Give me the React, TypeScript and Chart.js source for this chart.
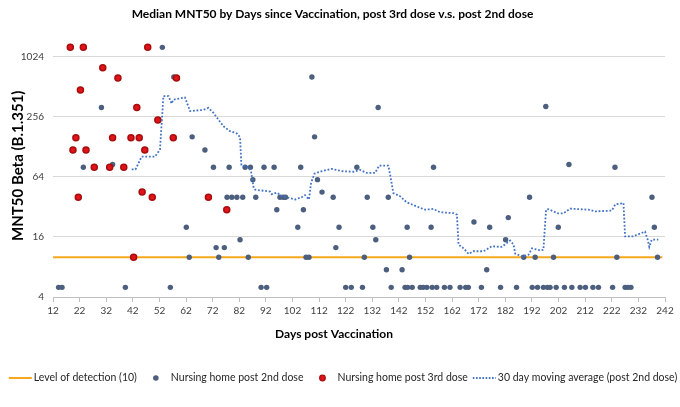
import { useEffect, useRef } from "react"
import { Chart, registerables } from "chart.js"

Chart.register(...registerables)

const FONT = "Lato, 'Open Sans', sans-serif"

const xTicks = [12, 22, 32, 42, 52, 62, 72, 82, 92, 102, 112, 122, 132, 142, 152, 162, 172, 182, 192, 202, 212, 222, 232, 242]
const yTicks = [4, 16, 64, 256, 1024]

const detectionLevel = 10
const detectionDays = [12, 241]

// post 2nd dose
const secondDays = [
  14.1, 15.4, 23.4, 30.2, 34.4, 39.2, 53.1, 56.1, 57.4, 62.1, 63.2, 64.3, 69.1, 72.3, 73.3, 74.3, 76.4, 77.4, 78.2, 79.2,
  81.1, 82.3, 83.3, 84.2, 85.4, 86.2, 87.1, 88.2, 90.2, 91.3, 92.3, 95.1, 96.1, 97.3, 98.5, 99.4, 104, 105.1, 106.1, 107.1,
  108.2, 109.3, 110.3, 111.4, 113.1, 117.3, 118.3, 119.5, 122, 124.1, 126.2, 128.3, 129, 130.1, 132.2, 133.3, 134.2, 137.3, 138, 139.1,
  143.2, 144.3, 145.3, 146, 147, 145.1, 150, 151.1, 152.5, 154.1, 154.5, 155, 156.2, 159.1, 161.2, 165, 167.1, 168.1, 170.2, 173,
  175, 176.1, 180.2, 182.1, 183.1, 186.2, 188.9, 191.1, 192.1, 193.2, 194.1, 196.3, 197.2, 197.8, 198.8, 200.1, 201.1, 201.9, 204.2, 205.9,
  207, 210.1, 212.1, 214.9, 217, 222.3, 223.2, 223.9, 227, 228, 229.2, 237.1, 238, 239.2,
]
const secondValues = [
  5, 5, 80, 317, 85, 5, 1270, 5, 640, 20, 10, 161, 119, 80, 12.5, 10, 12.5, 40, 80, 40,
  40, 15, 40, 80, 10, 80, 60, 40, 5, 80, 5, 80, 30, 40, 40, 40, 20, 80, 30, 10,
  10, 640, 161, 60, 45, 40, 12.5, 20, 5, 5, 80, 5, 10, 40, 20, 15, 317, 7.5, 40, 5,
  7.5, 5, 5, 10, 5, 20, 5, 5, 5, 20, 5, 80, 5, 5, 5, 5, 5, 5, 22.6, 5,
  7.5, 20, 5, 15, 25, 5, 10, 40, 5, 10, 5, 5, 324, 5, 5, 10, 5, 20, 5, 85,
  5, 5, 5, 5, 5, 5, 80, 10, 5, 5, 5, 40, 20, 10,
]

// post 3rd dose
const thirdDays = [18.5, 23.4, 47.6, 30.7, 36.4, 58.4, 22.3, 43.5, 51.4, 20.6, 34.4, 41.3, 44.4, 57.2, 19.5, 24.4, 46.5, 27.5, 33.3, 38.6, 21.5, 45.5, 49.3, 70.4, 77.3, 42.3]
const thirdValues = [1270, 1270, 1270, 795, 628, 628, 474, 317, 237, 158, 158, 158, 158, 158, 119, 119, 119, 80, 80, 80, 40, 45, 40, 40, 30, 10]

// 30 day moving average (post 2nd dose)
const avgDays = [
  41.6, 43, 45.3, 50.3, 52.2, 53.5, 55.4, 56.6, 57.2, 61.6, 63.5, 68.5, 70.4, 72.3, 76, 78.5, 81, 82.3, 82.8, 85.4,
  86.4, 87.4, 88, 93.6, 94.2, 96.1, 98, 103, 105.5, 106.7, 108.2, 109, 110.3, 113, 116.7, 120.5, 124.9, 127.4, 129.9, 133,
  134.6, 138, 138.9, 139.9, 142.4, 144.9, 148.6, 151.8, 154.9, 157.5, 162.5, 163.8, 164.4, 166.3, 168.2, 170, 173.8, 176.9, 180.6, 183.8,
  185.1, 185.7, 188.2, 190.7, 192, 195.1, 196.3, 197.3, 198.2, 201.9, 203.8, 206.4, 213.3, 215.8, 222, 223.3, 226.4, 227, 230.1, 234.5,
  235.5, 236.1, 237, 239.5,
]
const avgValues = [
  76, 76, 102, 102, 120, 413, 413, 347, 380, 400, 292, 300, 314, 280, 206, 184, 175, 160, 83, 80,
  73, 50, 47.6, 45.5, 43, 44.5, 41, 38, 40, 42, 38, 56, 69, 73, 77, 73, 72, 75, 70, 70,
  83, 83, 63, 44, 41, 35.6, 32.4, 30, 30.5, 28.3, 27.7, 26.8, 13.4, 12.3, 10.8, 11.5, 11.5, 12.9, 12.7, 14.7,
  13.4, 10.9, 10.2, 10.6, 12.3, 11.7, 11.9, 30, 30.3, 27.5, 27.5, 30.7, 30, 28.8, 29.4, 33.8, 35, 16.2, 16.2, 18.1,
  15, 12.7, 15, 15,
]

const ORANGE = "#f5a81c"
const SLATE = "#4d5f7e"
const RED = "#e3131b"
const RED_EDGE = "#a80d0d"
const AVG = "#4472c4"

const legendItems = [
  { text: "Level of detection (10)", kind: "line", color: ORANGE, dash: [] as number[] },
  { text: "Nursing home post 2nd dose", kind: "dot", color: SLATE, edge: SLATE, r: 2.2 },
  { text: "Nursing home post 3rd dose", kind: "dot", color: RED, edge: RED_EDGE, r: 2.8 },
  { text: "30 day moving average (post 2nd dose)", kind: "line", color: AVG, dash: [1.6, 1.6] },
]

// x axis title and legend, placed like the Excel original
const bottomLegend = {
  id: "bottomLegend",
  afterDraw(chart: Chart) {
    const ctx = chart.ctx
    ctx.save()
    ctx.fillStyle = "#000"
    ctx.font = `bold 12px ${FONT}`
    ctx.textAlign = "center"
    ctx.textBaseline = "middle"
    ctx.fillText("Days post Vaccination", 334, 334)

    ctx.textAlign = "left"
    ctx.font = `10.5px ${FONT}`
    const gap = 5
    const widths = legendItems.map((it) => (it.kind === "line" ? 25 : 29) + ctx.measureText(it.text).width)
    const total = widths.reduce((a, b) => a + b, 0) + gap * (legendItems.length - 1)
    let x = (chart.width - total) / 2 + 3
    const y = 378
    legendItems.forEach((it: any, i) => {
      if (it.kind === "line") {
        ctx.strokeStyle = it.color
        ctx.lineWidth = 2
        ctx.setLineDash(it.dash)
        ctx.beginPath()
        ctx.moveTo(x, y)
        ctx.lineTo(x + 23, y)
        ctx.stroke()
        ctx.setLineDash([])
        ctx.fillStyle = "#262626"
        ctx.fillText(it.text, x + 25, y)
      } else {
        ctx.fillStyle = it.color
        ctx.strokeStyle = it.edge
        ctx.lineWidth = 1.2
        ctx.beginPath()
        ctx.arc(x + 14, y, it.r, 0, Math.PI * 2)
        ctx.fill()
        ctx.stroke()
        ctx.fillStyle = "#262626"
        ctx.fillText(it.text, x + 29, y)
      }
      x += widths[i] + gap
    })
    ctx.restore()
  },
}

const App = () => {
  const chartRef = useRef<HTMLCanvasElement>(null)
  const chartInstance = useRef<Chart | null>(null)

  useEffect(() => {
    if (!chartRef.current) return
    if (chartInstance.current) chartInstance.current.destroy()
    const ctx = chartRef.current.getContext("2d")
    if (!ctx) return

    chartInstance.current = new Chart(ctx, {
      type: "scatter",
      data: {
        datasets: [
          {
            label: "Level of detection (10)",
            data: detectionDays.map((d) => ({ x: d, y: detectionLevel })),
            showLine: true,
            borderColor: ORANGE,
            borderWidth: 2,
            pointRadius: 0,
            order: 3,
          },
          {
            label: "Nursing home post 2nd dose",
            data: secondDays.map((d, i) => ({ x: d, y: secondValues[i] })),
            backgroundColor: SLATE,
            borderColor: SLATE,
            borderWidth: 0,
            pointRadius: 2.7,
            order: 2,
          },
          {
            label: "Nursing home post 3rd dose",
            data: thirdDays.map((d, i) => ({ x: d, y: thirdValues[i] })),
            backgroundColor: RED,
            borderColor: RED_EDGE,
            borderWidth: 1.5,
            pointRadius: 3,
            order: 1,
          },
          {
            label: "30 day moving average (post 2nd dose)",
            data: avgDays.map((d, i) => ({ x: d, y: avgValues[i] })),
            showLine: true,
            borderColor: AVG,
            borderWidth: 1.8,
            borderDash: [1.8, 1.8],
            pointRadius: 0,
            order: 0,
          },
        ],
      },
      options: {
        animation: false,
        responsive: true,
        maintainAspectRatio: false,
        layout: { padding: { left: 0, right: 15, top: 0, bottom: 60 } },
        plugins: {
          legend: { display: false },
          tooltip: { enabled: false },
          title: {
            display: true,
            text: "Median MNT50 by Days since Vaccination, post 3rd dose v.s. post 2nd dose",
            color: "#000",
            font: { family: FONT, size: 12, weight: "bold" },
            padding: { top: 7, bottom: 13 },
          },
        },
        scales: {
          x: {
            type: "linear",
            min: 12,
            max: 242,
            afterBuildTicks: (s: any) => {
              s.ticks = xTicks.map((v) => ({ value: v }))
            },
            afterFit: (s: any) => {
              s.height = 50
            },
            grid: { drawOnChartArea: false, color: "#bfbfbf", tickLength: 5 },
            border: { color: "#bfbfbf" },
            ticks: { color: "#404040", font: { family: FONT, size: 10 }, padding: 3, maxRotation: 0, autoSkip: false },
          },
          y: {
            type: "logarithmic",
            min: 4,
            max: 1713,
            afterBuildTicks: (s: any) => {
              s.ticks = yTicks.map((v) => ({ value: v }))
            },
            afterFit: (s: any) => {
              s.width = 53
            },
            grid: { color: "#d9d9d9", drawTicks: false },
            border: { display: false },
            ticks: { color: "#404040", font: { family: FONT, size: 10 }, padding: 9, callback: (v: any) => String(v) },
            title: {
              display: true,
              text: "MNT50 Beta (B.1.351)",
              color: "#000",
              font: { family: FONT, size: 15, weight: "bold" },
              padding: { top: 9, bottom: 0 },
            },
          },
        },
      },
      plugins: [bottomLegend],
    })

    return () => {
      if (chartInstance.current) {
        chartInstance.current.destroy()
        chartInstance.current = null
      }
    }
  }, [])

  return (
    <div style={{ position: "fixed", left: 0, top: 0, width: 680, height: 407, background: "#fff" }}>
      <canvas ref={chartRef}></canvas>
    </div>
  )
}

export default App
